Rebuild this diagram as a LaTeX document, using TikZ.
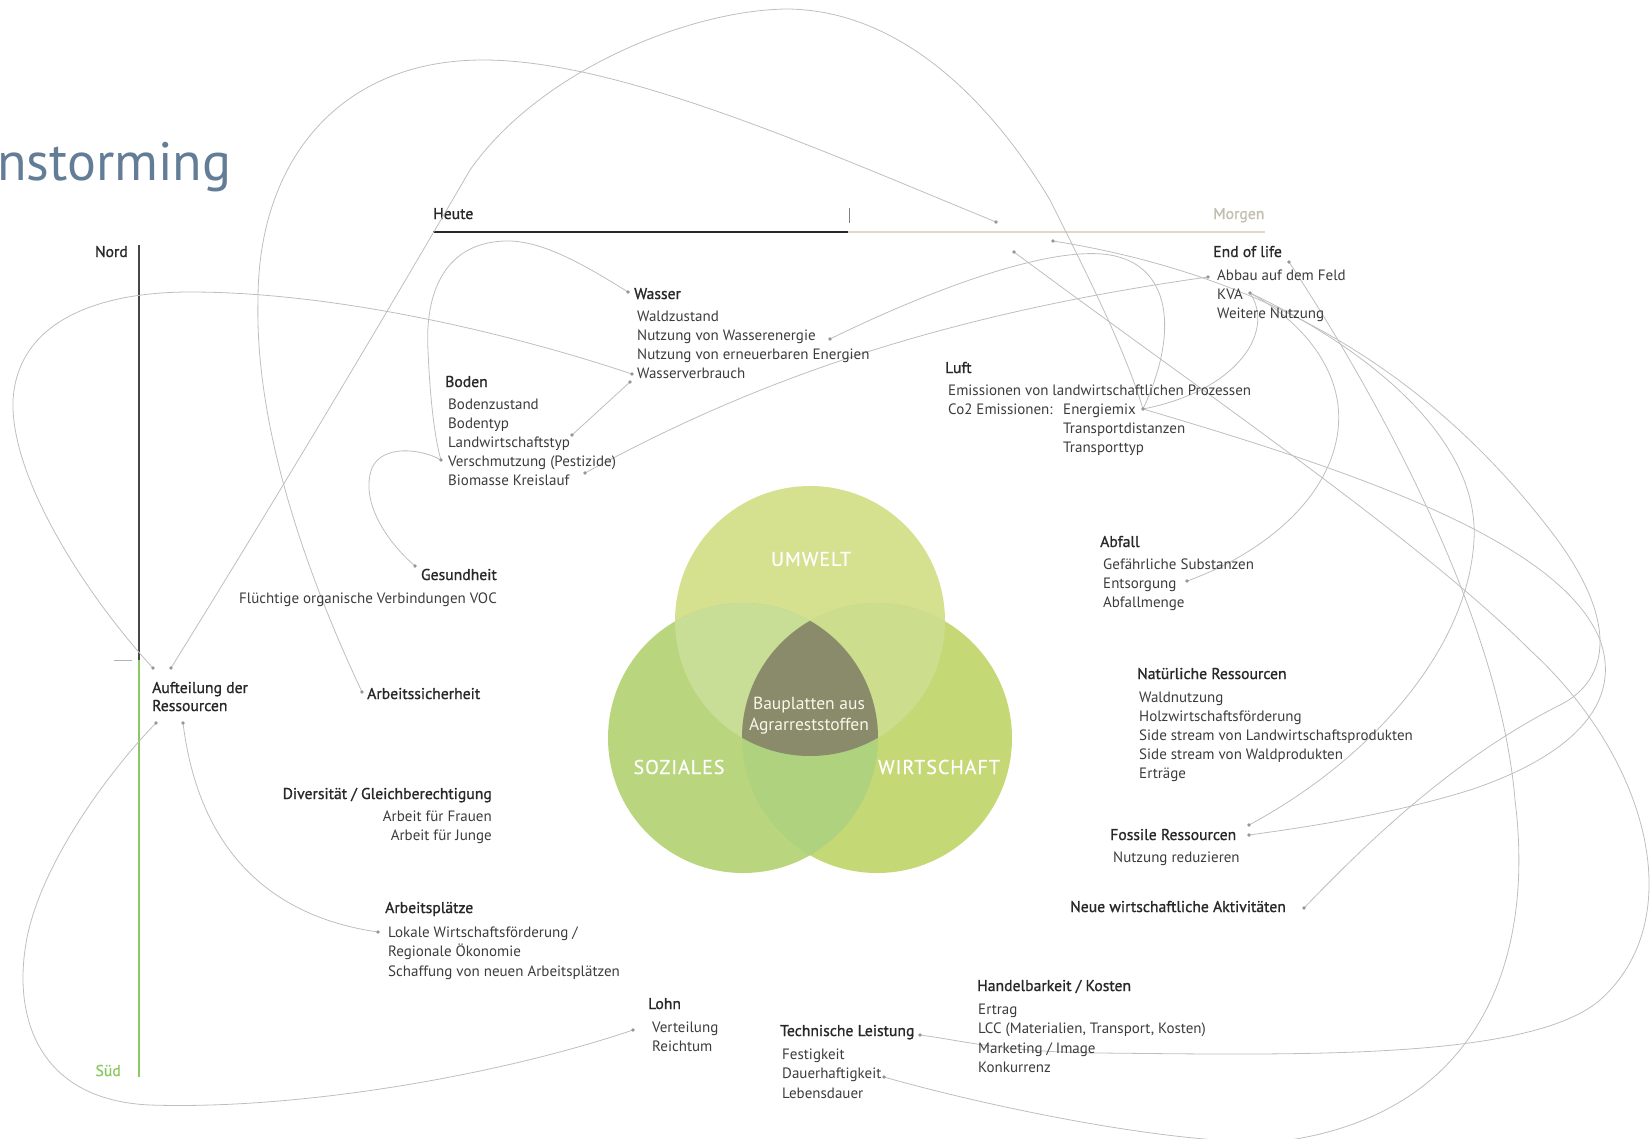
\documentclass[tikz,border=0pt]{standalone}
\usepackage{fontspec}
\setmainfont{PT Sans}
\newfontfamily\headfam[FakeBold=1.1]{PT Sans}
\newfontfamily\vennfam[LetterSpace=5, FakeBold=0.5]{PT Sans}
\usetikzlibrary{positioning}
\definecolor{titleblue}{RGB}{100,125,150}
\definecolor{headgray}{RGB}{40,40,40}
\definecolor{itemgray}{RGB}{60,60,60}
\definecolor{linkgray}{RGB}{190,190,190}
\definecolor{dotgray}{RGB}{150,150,150}
\definecolor{morgenbeige}{RGB}{195,190,175}
\definecolor{timebeige}{RGB}{222,215,198}
\definecolor{nordgray}{RGB}{70,70,70}
\definecolor{suedgreen}{RGB}{140,200,95}
\definecolor{umweltgreen}{RGB}{213,225,143}
\definecolor{sozgreen}{RGB}{185,213,125}
\definecolor{wirtgreen}{RGB}{196,217,118}
\definecolor{usgreen}{RGB}{200,221,149}
\definecolor{uwgreen}{RGB}{204,221,142}
\definecolor{swgreen}{RGB}{175,210,127}
\definecolor{coreolive}{RGB}{138,139,107}
\tikzset{
  % Stichworte
  item/.style={anchor=base west, inner sep=0pt,
    font=\fontsize{15}{18}\selectfont, text=itemgray},
  % Überschriften der Gruppen
  head/.style={item, font=\headfam\fontsize{15.7}{18}\selectfont, text=headgray},
  % Verbindungslinien
  link/.style={draw=linkgray, line width=0.8pt},
  % Kreise im Venn
  venn/.style={text=white, font=\vennfam\fontsize{20}{22}\selectfont},
}

\begin{document}
\begin{tikzpicture}[x=1pt, y=-1pt]
  \clip (0,0) rectangle (1652,1138);
  \useasboundingbox (0,0) rectangle (1652,1138);

  % Titel
  \node[anchor=base west, inner sep=0pt, text=titleblue,
        font=\fontsize{54}{60}\selectfont] (titel) at (-3,180) {nstorming};

  % Zeitachse
  \coordinate (heuteL) at (433,232);
  \coordinate (jetzt) at (848,232);
  \coordinate (morgenR) at (1265,232);
  \draw[line width=2pt, headgray] (heuteL) -- (jetzt);
  \draw[line width=1.5pt, timebeige] (jetzt) -- (morgenR);
  \draw[line width=0.8pt, gray] (849,208) -- (849,223);
  \node[head] (heute) at (433,219) {Heute};
  \node[head, text=morgenbeige] (morgen) at (1213,219) {Morgen};

  % Nord-Süd-Achse
  \coordinate (nordO) at (139,245);
  \coordinate (mitte) at (139,660);
  \coordinate (suedU) at (139,1077);
  \draw[line width=2.5pt, nordgray] (nordO) -- (mitte);
  \draw[line width=2.5pt, suedgreen] (mitte) -- (suedU);
  \draw[line width=1pt, gray!60] (114,660) -- (132,660);
  \node[head, anchor=base east] (nord) at (128,257) {Nord};
  \node[head, anchor=base east, text=suedgreen] (sued) at (121,1076) {Süd};

  % Venn-Diagramm
  \coordinate (cU) at (810,621);
  \coordinate (cS) at (743,738);
  \coordinate (cW) at (877,738);
  \fill[umweltgreen] (cU) circle (135pt);
  \fill[sozgreen] (cS) circle (135pt);
  \fill[wirtgreen] (cW) circle (135pt);
  \begin{scope}
    \clip (cU) circle (135pt);
    \fill[usgreen] (cS) circle (135pt);
    \fill[uwgreen] (cW) circle (135pt);
  \end{scope}
  \begin{scope}
    \clip (cS) circle (135pt);
    \fill[swgreen] (cW) circle (135pt);
    \clip (cU) circle (135pt);
    \fill[coreolive] (cW) circle (135pt);
  \end{scope}
  \node[venn] (umwelt) at (811,559) {UMWELT};
  \node[venn] (soziales) at (679,767) {SOZIALES};
  \node[venn] (wirtschaft) at (939,767) {WIRTSCHAFT};
  \node[align=center, text=white!94!olive, font=\fontsize{17.5}{21}\selectfont]
    (bauplatten) at (809,716) {Bauplatten aus\\Agrarreststoffen};

  % Endpunkte der Verbindungen
  \coordinate (aufNW) at (153,668);
  \coordinate (aufNE) at (171,668);
  \coordinate (aufSW) at (156,723);
  \coordinate (aufSE) at (183,723);
  \coordinate (pWasser) at (628,292);
  \coordinate (pWEnergie) at (830,339);
  \coordinate (wverbA) at (632,374);
  \coordinate (wverbB) at (630,382);
  \coordinate (pLandw) at (572,435);
  \coordinate (pVerschm) at (441,460);
  \coordinate (pBiomasse) at (585,473);
  \coordinate (pGesund) at (415,566);
  \coordinate (pArbSich) at (362,692);
  \coordinate (pArbPl) at (378,932);
  \coordinate (pLohn) at (633,1030);
  \coordinate (pTechn) at (920,1035);
  \coordinate (pDauer) at (884,1077);
  \coordinate (pNeue) at (1304,908);
  \coordinate (fossA) at (1249,825);
  \coordinate (fossB) at (1249,835);
  \coordinate (pEntsorg) at (1187,581);
  \coordinate (pEnergie) at (1143,409);
  \coordinate (pAbbau) at (1208,277);
  \coordinate (pKVA) at (1250,293);
  \coordinate (pEoL) at (1289,262);
  \coordinate (morgA) at (996,222);
  \coordinate (morgB) at (1014,252);
  \coordinate (morgC) at (1053,241);

  % Verbindungen links
  \draw[link] (aufNW) .. controls (90,600) and (10,480) .. (13,400)
    .. controls (18,320) and (100,292) .. (190,292)
    .. controls (330,292) and (500,330) .. (wverbA);
  \draw[link] (aufNE) .. controls (300,460) and (400,290) .. (470,170)
    .. controls (540,70) and (690,10) .. (787,9)
    .. controls (900,10) and (990,100) .. (1050,200)
    .. controls (1090,280) and (1125,350) .. (pEnergie);
  \draw[link] (pArbSich) .. controls (300,560) and (255,420) .. (258,300)
    .. controls (258,160) and (340,60) .. (483,60)
    .. controls (620,60) and (820,150) .. (morgA);
  \draw[link] (pGesund) .. controls (385,540) and (360,500) .. (372,468)
    .. controls (382,445) and (420,448) .. (pVerschm);
  \draw[link] (pWasser) .. controls (580,262) and (540,240) .. (505,241)
    .. controls (440,243) and (425,300) .. (428,350)
    .. controls (430,400) and (435,440) .. (pVerschm);
  \draw[link] (pLandw) -- (wverbB);
  \draw[link] (pBiomasse) .. controls (720,400) and (900,320) .. (pAbbau);
  \draw[link] (pWEnergie) .. controls (930,290) and (1050,245) .. (1110,255)
    .. controls (1170,265) and (1180,330) .. (pEnergie);
  \draw[link] (pLohn) .. controls (500,1075) and (300,1110) .. (150,1105)
    .. controls (40,1100) and (15,1020) .. (25,950)
    .. controls (35,870) and (110,770) .. (aufSW);
  \draw[link] (pArbPl) .. controls (280,918) and (200,860) .. (aufSE);

  % Verbindungen rechts
  \draw[link] (pKVA) .. controls (1275,330) and (1240,390) .. (pEnergie);
  \draw[link] (pKVA) .. controls (1300,320) and (1345,370) .. (1338,430)
    .. controls (1330,500) and (1260,555) .. (pEntsorg);
  \draw[link] (pKVA) .. controls (1350,340) and (1480,430) .. (1474,540)
    .. controls (1468,650) and (1370,760) .. (fossA);
  \draw[link] (morgC) .. controls (1300,280) and (1450,400) .. (1550,530)
    .. controls (1620,620) and (1610,680) .. (1560,705)
    .. controls (1450,760) and (1360,850) .. (pNeue);
  \draw[link] (pEnergie) .. controls (1350,470) and (1560,540) .. (1600,640)
    .. controls (1625,710) and (1560,760) .. (1470,790)
    .. controls (1390,815) and (1300,828) .. (fossB);
  \draw[link] (morgB) .. controls (1200,390) and (1420,540) .. (1530,650)
    .. controls (1650,760) and (1690,920) .. (1600,1000)
    .. controls (1530,1060) and (1300,1055) .. (1100,1053)
    .. controls (1000,1052) and (960,1040) .. (pTechn);
  \draw[link] (pEoL) .. controls (1380,400) and (1500,620) .. (1515,800)
    .. controls (1535,960) and (1480,1110) .. (1290,1140)
    .. controls (1200,1150) and (1000,1110) .. (pDauer);

  % Punkte
  \foreach \p in {aufNW, aufNE, aufSW, aufSE, pWasser, pWEnergie, wverbA, wverbB,
    pLandw, pVerschm, pBiomasse, pGesund, pArbSich, pArbPl, pLohn, pTechn, pDauer,
    pNeue, fossA, fossB, pEntsorg, pEnergie, pAbbau, pKVA, pEoL, morgA, morgB, morgC}
    \fill[dotgray] (\p) circle (1.8pt);

  % Wasser
  \node[head] (wasser) at (634,299) {Wasser};
  \foreach \t [count=\i from 0] in {Waldzustand, Nutzung von Wasserenergie,
    Nutzung von erneuerbaren Energien, Wasserverbrauch}
    \node[item] (wasser-\i) at (637,{321+19.2*\i}) {\t};

  % Boden
  \node[head] (boden) at (445,387) {Boden};
  \foreach \t [count=\i from 0] in {Bodenzustand, Bodentyp, Landwirtschaftstyp,
    Verschmutzung (Pestizide), Biomasse Kreislauf}
    \node[item] (boden-\i) at (448,{409+19.2*\i}) {\t};

  % Luft
  \node[head] (luft) at (945,373) {Luft};
  \node[item] (luft-0) at (948,395) {Emissionen von landwirtschaftlichen Prozessen};
  \node[item] (luft-1) at (948,414) {Co2 Emissionen:};
  \foreach \t [count=\i from 0] in {Energiemix, Transportdistanzen, Transporttyp}
    \node[item] (co2-\i) at (1063,{414+19.3*\i}) {\t};

  % End of life
  \node[head] (eol) at (1213,257) {End of life};
  \foreach \t [count=\i from 0] in {Abbau auf dem Feld, KVA, Weitere Nutzung}
    \node[item] (eol-\i) at (1217,{280+19.3*\i}) {\t};

  % Abfall
  \node[head] (abfall) at (1100,547) {Abfall};
  \foreach \t [count=\i from 0] in {Gefährliche Substanzen, Entsorgung, Abfallmenge}
    \node[item] (abfall-\i) at (1103,{569+19*\i}) {\t};

  % Natürliche Ressourcen
  \node[head] (natur) at (1137,679) {Natürliche Ressourcen};
  \foreach \t [count=\i from 0] in {Waldnutzung, Holzwirtschaftsförderung,
    Side stream von Landwirtschaftsprodukten, Side stream von Waldprodukten, Erträge}
    \node[item] (natur-\i) at (1139,{702+19.2*\i}) {\t};

  % Fossile Ressourcen
  \node[head] (fossil) at (1110,840) {Fossile Ressourcen};
  \node[item] (fossil-0) at (1113,862) {Nutzung reduzieren};

  % Neue wirtschaftliche Aktivitäten
  \node[head] (neue) at (1070,912) {Neue wirtschaftliche Aktivitäten};

  % Gesundheit
  \node[head, anchor=base east] (gesund) at (497,580) {Gesundheit};
  \node[item, anchor=base east] (gesund-0) at (497,603)
    {Flüchtige organische Verbindungen VOC};

  % Arbeitssicherheit
  \node[head] (arbsich) at (367,699) {Arbeitssicherheit};

  % Aufteilung der Ressourcen
  \node[head] (aufteilung) at (152,693) {Aufteilung der};
  \node[head] (aufteilung-1) at (152,711) {Ressourcen};

  % Diversität
  \node[head, anchor=base east] (divers) at (492,799) {Diversität / Gleichberechtigung};
  \node[item, anchor=base east] (divers-0) at (492,821) {Arbeit für Frauen};
  \node[item, anchor=base east] (divers-1) at (492,840) {Arbeit für Junge};

  % Arbeitsplätze
  \node[head] (arbpl) at (385,913) {Arbeitsplätze};
  \foreach \t [count=\i from 0] in {Lokale Wirtschaftsförderung /,
    Regionale Ökonomie, Schaffung von neuen Arbeitsplätzen}
    \node[item] (arbpl-\i) at (388,{937+19.5*\i}) {\t};

  % Lohn
  \node[head] (lohn) at (648,1009) {Lohn};
  \node[item] (lohn-0) at (652,1032) {Verteilung};
  \node[item] (lohn-1) at (652,1051) {Reichtum};

  % Technische Leistung
  \node[head] (technik) at (780,1036) {Technische Leistung};
  \foreach \t [count=\i from 0] in {Festigkeit, Dauerhaftigkeit, Lebensdauer}
    \node[item] (technik-\i) at (782,{1059+19.5*\i}) {\t};

  % Handelbarkeit / Kosten
  \node[head] (handel) at (977,991) {Handelbarkeit / Kosten};
  \foreach \t [count=\i from 0] in {Ertrag, {LCC (Materialien, Transport, Kosten)},
    Marketing / Image, Konkurrenz}
    \node[item] (handel-\i) at (978,{1014+19.5*\i}) {\t};
\end{tikzpicture}
\end{document}
